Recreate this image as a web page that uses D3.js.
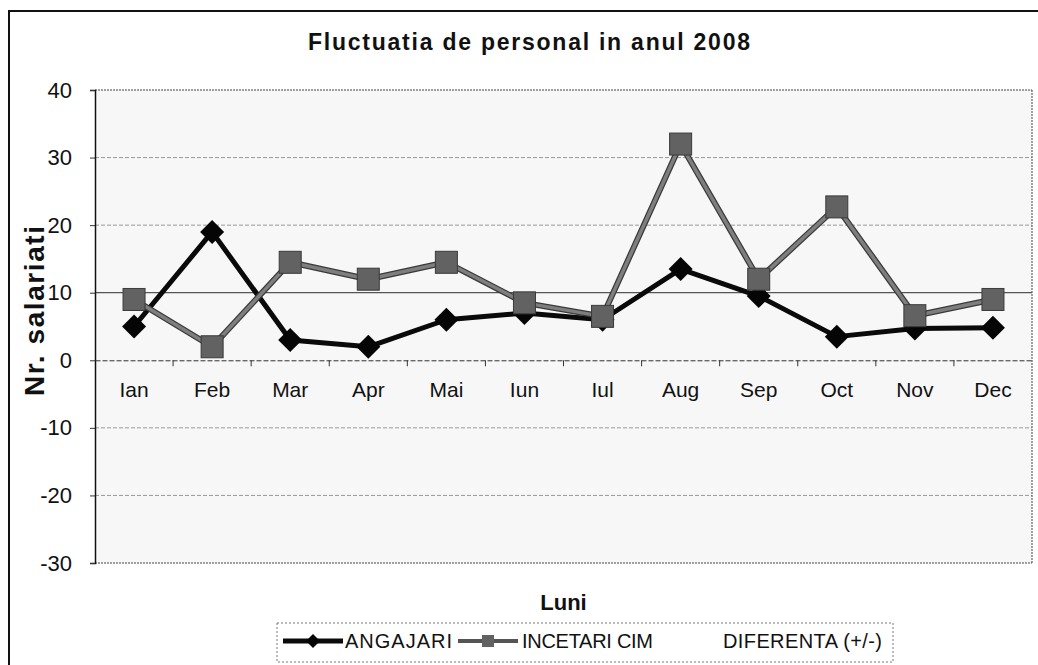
<!DOCTYPE html>
<html><head><meta charset="utf-8">
<script src="https://cdn.jsdelivr.net/npm/d3@7"></script>
<style>
html,body{margin:0;padding:0;background:#fff;}
svg{display:block;font-family:"Liberation Sans",Arial,sans-serif;}
</style></head>
<body>
<svg id="chart" width="1038" height="665"></svg>
<script>
const categories = ["Ian","Feb","Mar","Apr","Mai","Iun","Iul","Aug","Sep","Oct","Nov","Dec"];
const angajari = [5, 19, 3, 2, 6, 7, 6, 13.5, 9.5, 3.5, 4.7, 4.8];
const incetari = [9, 2, 14.5, 12, 14.5, 8.5, 6.5, 32, 12, 22.7, 6.6, 9];
const seriesNames = ["ANGAJARI", "INCETARI CIM", "DIFERENTA (+/-)"];
const yTicks = [40, 30, 20, 10, 0, -10, -20, -30];
const titleText = "Fluctuatia de personal in anul 2008";
const yTitle = "Nr. salariati";
const xTitle = "Luni";

const svg = d3.select("#chart");
const L = 95, R = 1032, T = 90, B = 563;
const FF = "'Liberation Sans',Arial,sans-serif";

// outer frame
svg.append("rect").attr("x", 9).attr("y", 11).attr("width", 1060).attr("height", 700)
  .attr("fill", "none").attr("stroke", "#111").attr("stroke-width", 2);

const x = d3.scaleBand().domain(categories).range([L, R]).padding(0);
const y = d3.scaleLinear().domain([-30, 40]).range([B, T]);

// plot background
svg.append("rect").attr("x", L).attr("y", T).attr("width", R - L).attr("height", B - T)
  .attr("fill", "#f7f7f7");

// gridlines
svg.append("g").selectAll("line").data(yTicks.filter(d => d !== 0 && d !== 40 && d !== -30)).join("line")
  .attr("x1", L).attr("x2", R).attr("y1", d => y(d)).attr("y2", d => y(d))
  .attr("stroke", d => d === 10 ? "#555" : "#999")
  .attr("stroke-width", d => d === 10 ? 1.2 : 1)
  .attr("stroke-dasharray", d => d === 10 ? null : "4,2");

// plot border (top, right, bottom dotted)
const bd = svg.append("g").attr("fill", "none").attr("stroke", "#444").attr("stroke-dasharray", "2,1");
bd.append("line").attr("x1", L).attr("x2", R).attr("y1", T).attr("y2", T);
bd.append("line").attr("x1", R).attr("x2", R).attr("y1", T).attr("y2", B);
bd.append("line").attr("x1", L).attr("x2", R).attr("y1", B).attr("y2", B);

// y axis
const yAxis = d3.axisLeft(y).tickValues(yTicks).tickSize(5).tickPadding(18).tickFormat(d => String(d));
const ya = svg.append("g").attr("transform", `translate(${L},0)`).call(yAxis);
ya.select(".domain").attr("stroke", "#111").attr("stroke-width", 1.5);
ya.selectAll(".tick line").attr("stroke", "#333");
ya.selectAll(".tick text").attr("font-size", 22).attr("fill", "#111").attr("font-family", FF);

// x axis at zero
const xAxis = d3.axisBottom(x).tickSize(0).tickPadding(22);
const xa = svg.append("g").attr("transform", `translate(0,${y(0)})`).call(xAxis);
xa.select(".domain").attr("stroke", "#333").attr("stroke-dasharray", "5,2");
xa.selectAll(".tick text").attr("font-size", 21).attr("fill", "#111").attr("font-family", FF);
// boundary ticks
svg.append("g").selectAll("line").data(categories.slice(1)).join("line")
  .attr("x1", d => x(d)).attr("x2", d => x(d)).attr("y1", y(0)).attr("y2", y(0) + 6)
  .attr("stroke", "#333");

// lines
const line = d3.line().x((d, i) => x(categories[i]) + x.bandwidth() / 2).y(d => y(d));
svg.append("path").datum(angajari).attr("d", line).attr("fill", "none")
  .attr("stroke", "#0a0a0a").attr("stroke-width", 5).attr("stroke-linejoin", "round");
svg.append("path").datum(incetari).attr("d", line).attr("fill", "none")
  .attr("stroke", "#3a3a3a").attr("stroke-width", 6).attr("stroke-linejoin", "round");
svg.append("path").datum(incetari).attr("d", line).attr("fill", "none")
  .attr("stroke", "#7e7e7e").attr("stroke-width", 3.5).attr("stroke-linejoin", "round");

// markers
svg.append("g").selectAll("path").data(angajari).join("path")
  .attr("d", "M0,-12L12,0L0,12L-12,0Z")
  .attr("transform", (d, i) => `translate(${x(categories[i]) + x.bandwidth() / 2},${y(d)})`)
  .attr("fill", "#050505");
svg.append("g").selectAll("rect").data(incetari).join("rect")
  .attr("x", (d, i) => x(categories[i]) + x.bandwidth() / 2 - 11)
  .attr("y", d => y(d) - 11).attr("width", 22).attr("height", 22)
  .attr("fill", "#626262").attr("stroke", "#3a3a3a").attr("stroke-width", 1);

// title
svg.append("text").attr("x", 529).attr("y", 50).attr("text-anchor", "middle")
  .attr("font-size", 23).attr("font-weight", "bold").attr("fill", "#111")
  .attr("textLength", 442).attr("lengthAdjust", "spacing").text(titleText);

// y title
svg.append("text").attr("transform", "translate(44,311) rotate(-90)").attr("text-anchor", "middle")
  .attr("font-size", 28).attr("font-weight", "bold").attr("fill", "#111")
  .attr("textLength", 170).attr("lengthAdjust", "spacing").text(yTitle);

// x title
svg.append("text").attr("x", (L + R) / 2).attr("y", 610).attr("text-anchor", "middle")
  .attr("font-size", 22).attr("font-weight", "bold").attr("fill", "#111").text(xTitle);

// legend
const lg = svg.append("g");
lg.append("rect").attr("x", 277).attr("y", 623).attr("width", 616).attr("height", 39)
  .attr("fill", "#fff").attr("stroke", "#777").attr("stroke-dasharray", "2,2");
const legendItems = [
  {name: seriesNames[0], x1: 283, x2: 343, tx: 345, tw: 107, kind: "diamond"},
  {name: seriesNames[1], x1: 458, x2: 518, tx: 522, tw: 131, kind: "square"},
  {name: seriesNames[2], x1: null, x2: null, tx: 723, tw: 159, kind: "none"}
];
legendItems.forEach(it => {
  if (it.kind === "diamond") {
    lg.append("line").attr("x1", it.x1).attr("x2", it.x2).attr("y1", 641).attr("y2", 641)
      .attr("stroke", "#0a0a0a").attr("stroke-width", 5);
    lg.append("path").attr("d", "M0,-7L7,0L0,7L-7,0Z")
      .attr("transform", `translate(${(it.x1 + it.x2) / 2},641)`).attr("fill", "#050505");
  } else if (it.kind === "square") {
    lg.append("line").attr("x1", it.x1).attr("x2", it.x2).attr("y1", 641).attr("y2", 641)
      .attr("stroke", "#555").attr("stroke-width", 4);
    lg.append("rect").attr("x", (it.x1 + it.x2) / 2 - 6).attr("y", 635).attr("width", 12).attr("height", 12)
      .attr("fill", "#626262");
  }
  lg.append("text").attr("x", it.tx).attr("y", 648).attr("font-size", 20).attr("fill", "#111")
    .attr("textLength", it.tw).attr("lengthAdjust", "spacing").text(it.name);
});
</script>
</body></html>
